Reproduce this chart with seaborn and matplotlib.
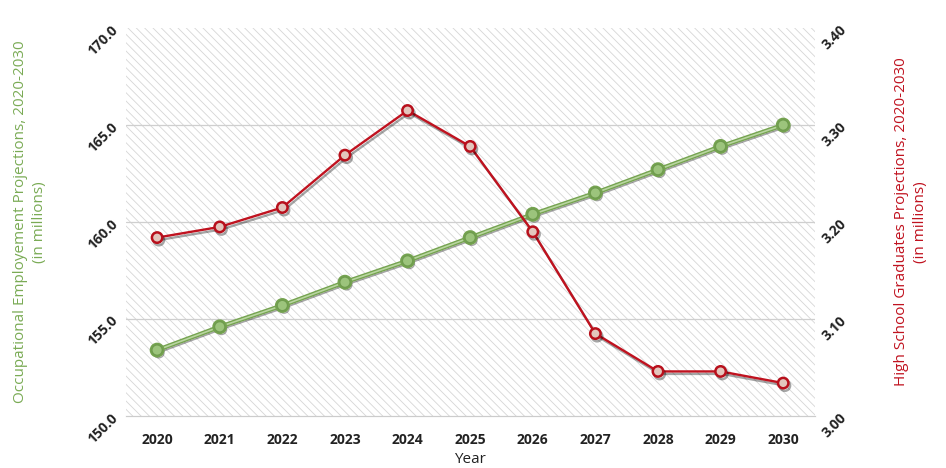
import numpy as np
import pandas as pd
import matplotlib
import matplotlib.pyplot as plt
import matplotlib.patheffects as pe
from matplotlib.patches import Rectangle
from matplotlib.ticker import FixedLocator, FormatStrFormatter
import seaborn as sns

years = [2020, 2021, 2022, 2023, 2024, 2025, 2026, 2027, 2028, 2029, 2030]
employment = [153.4, 154.6, 155.7, 156.9, 158.0, 159.2, 160.4, 161.5, 162.7, 163.9, 165.0]
graduates = [3.184, 3.195, 3.215, 3.269, 3.315, 3.278, 3.190, 3.085, 3.046, 3.046, 3.034]

left_ticks = [150.0, 155.0, 160.0, 165.0, 170.0]
right_ticks = [3.00, 3.10, 3.20, 3.30, 3.40]

df = pd.DataFrame({'Year': years, 'Employment': employment, 'Graduates': graduates})

sns.set_style('white')
plt.rcParams['font.family'] = ['Open Sans', 'DejaVu Sans']
plt.rcParams['hatch.linewidth'] = 0.6
plt.rcParams['hatch.color'] = '#d6d6d6'

green = '#7aab55'
red = '#c0121f'

fig = plt.figure(figsize=(9.46, 4.68), dpi=100)
ax = fig.add_axes([0.133, 0.111, 0.728, 0.829])
ax2 = ax.twinx()

# hatched plot background
ax.add_patch(Rectangle((0, 0), 1, 1, transform=ax.transAxes, facecolor='white',
                       edgecolor='#d6d6d6', hatch='\\\\\\\\', lw=0, zorder=0))
for v in left_ticks[1:-1]:
    ax.axhline(v, color='#cfcfcf', lw=0.9, zorder=1)

shadow = pe.SimpleLineShadow(offset=(1.2, -1.8), shadow_color='k', alpha=0.35)

sns.lineplot(data=df, x='Year', y='Employment', ax=ax, color='#b9d6a0',
             marker='o', markersize=7.5, markerfacecolor='#9cc47c',
             markeredgecolor='#6f9c4e', markeredgewidth=1.0, linewidth=1.2,
             path_effects=[shadow, pe.Stroke(linewidth=3.2, foreground='#75a350'), pe.Normal()],
             zorder=3)
sns.lineplot(data=df, x='Year', y='Graduates', ax=ax2, color=red,
             marker='o', markersize=7.5, markerfacecolor='#e3c6bd',
             markeredgecolor='#b8101c', markeredgewidth=1.8, linewidth=1.7,
             path_effects=[shadow, pe.Normal()], zorder=3)

ax.set_xlim(2019.5, 2030.5)
ax.set_ylim(150, 170)
ax2.set_ylim(3.0, 3.4)

ax.set_xticks(years)
ax.set_xticklabels([str(y) for y in years], fontsize=10, fontweight='bold', color='#222222')
ax.xaxis.set_minor_locator(FixedLocator([y + 0.5 for y in [2019] + years]))
ax.tick_params(axis='x', which='major', length=0, pad=12)
ax.tick_params(axis='x', which='minor', length=4, color='#bbbbbb', width=0.8)

ax.set_yticks(left_ticks)
ax.yaxis.set_major_formatter(FormatStrFormatter('%.1f'))
ax.tick_params(axis='y', length=0, pad=4)
for t in ax.get_yticklabels():
    t.set_rotation(45)
    t.set_fontsize(10)
    t.set_fontweight('bold')
    t.set_color('#222222')

ax2.set_yticks(right_ticks)
ax2.yaxis.set_major_formatter(FormatStrFormatter('%.2f'))
ax2.tick_params(axis='y', length=0, pad=4)
for t in ax2.get_yticklabels():
    t.set_rotation(45)
    t.set_fontsize(10)
    t.set_fontweight('bold')
    t.set_color('#222222')

for a in (ax, ax2):
    for s in ('top', 'left', 'right'):
        a.spines[s].set_visible(False)
    a.spines['bottom'].set_color('#cccccc')

ax.set_xlabel('Year', fontsize=11, color='#222222', labelpad=4)
ax.set_ylabel('Occupational Employement Projections, 2020-2030\n(in millions)',
              fontsize=11, color=green, linespacing=1.3)
ax2.set_ylabel('High School Graduates Projections, 2020-2030\n(in millions)',
               fontsize=11, color=red, rotation=90, linespacing=1.3)
ax.yaxis.set_label_coords(-0.115, 0.5)
ax2.yaxis.set_label_coords(1.116, 0.5)

fig.savefig('out.png', dpi=100)
